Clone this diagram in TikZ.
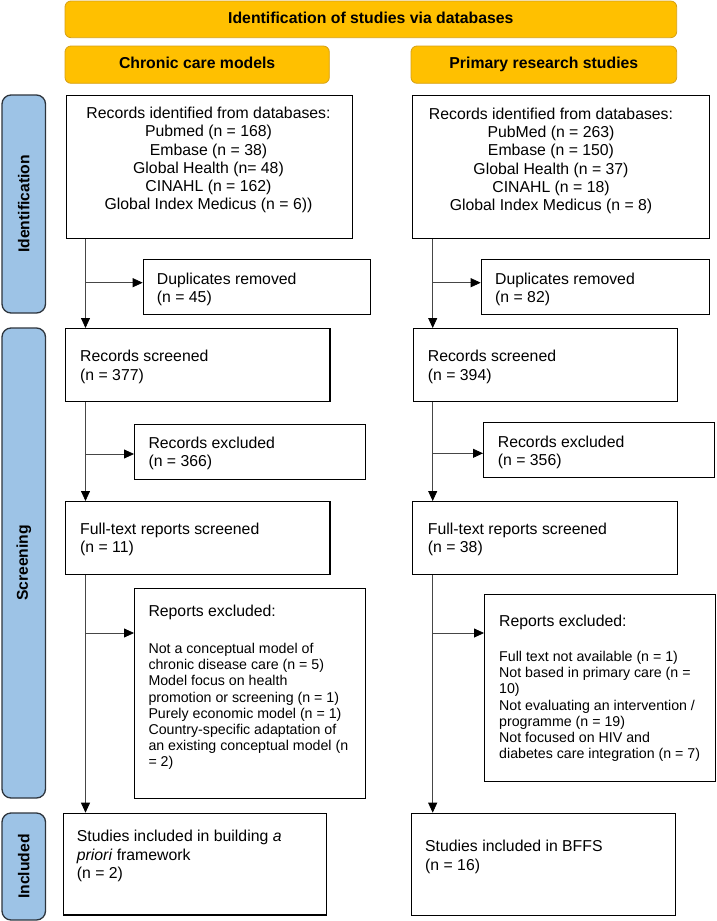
\documentclass[tikz,border=0pt]{standalone}
\usepackage{fontspec}
\setmainfont{Liberation Sans}
\usetikzlibrary{arrows.meta, calc, positioning}

\definecolor{headyellow}{RGB}{255,192,0}
\definecolor{headedge}{RGB}{214,160,20}
\definecolor{phaseblue}{RGB}{157,195,230}
\definecolor{phaseedge}{RGB}{45,52,60}
\definecolor{flowgray}{RGB}{70,70,70}

\begin{document}
\begin{tikzpicture}[x=1pt,y=-1pt,
	head/.style={draw=headedge, fill=headyellow, rounded corners=6pt, line width=0.8pt, inner sep=0pt, text height=11.5pt, text depth=3.3pt, font=\bfseries\fontsize{15.8}{18}\selectfont},
	phase/.style={draw=phaseedge, fill=phaseblue, rounded corners=9pt, line width=1.3pt, inner sep=0pt, rotate=90, font=\bfseries\fontsize{15.7}{18}\selectfont},
	box/.style={draw=black, line width=1.3pt, inner sep=0pt, anchor=north west},
	boxtext/.style={anchor=north west, inner sep=0pt, align=left, font=\fontsize{15.8}{18.3}\selectfont},
	listtext/.style={anchor=north west, inner sep=0pt, align=left, font=\fontsize{14.2}{16.2}\selectfont},
	flow/.style={draw=flowgray, line width=0.8pt, -{Triangle[length=10pt,width=9pt,color=black]}}]
		\useasboundingbox (0,0) rectangle (716,921);

		%Shape: Rounded Rect (headers)
		\node[head, minimum width=611.7, minimum height=36.7] (hd-all) at (370.85,19.35) {Identification of studies via databases};
		\node[head, minimum width=264.3, minimum height=37.3] (hd-ccm) at (197.15,64.65) {Chronic care models};
		\node[head, minimum width=265.7, minimum height=37.3] (hd-prs) at (543.85,64.65) {Primary research studies};

		%Shape: Rounded Rect (phases)
		\node[phase, minimum width=218, minimum height=43.5] (ph-ident) at (23.75,204) {Identification};
		\node[phase, minimum width=470, minimum height=43.5] (ph-screen) at (23.75,563) {Screening};
		\node[phase, minimum width=107, minimum height=43.5] (ph-incl) at (23.75,866.5) {Included};

		%Shape: Rectangle (chronic care models)
		\node[box, minimum width=286.3, minimum height=143] (ccm-ident) at (65.7,95) {};
		\node[box, minimum width=227.3, minimum height=55] (ccm-dup) at (142.7,259) {};
		\node[box, minimum width=264.3, minimum height=73] (ccm-screen) at (65,328) {};
		\node[box, minimum width=231, minimum height=55] (ccm-excl) at (134,424) {};
		\node[box, minimum width=264.3, minimum height=73] (ccm-full) at (65,501) {};
		\node[box, minimum width=231, minimum height=210] (ccm-rep) at (134,588) {};
		\node[box, minimum width=263.3, minimum height=101.5] (ccm-incl) at (62.7,812.7) {};

		%Shape: Rectangle (primary research studies)
		\node[box, minimum width=297.3, minimum height=143] (prs-ident) at (411.7,95) {};
		\node[box, minimum width=228.3, minimum height=55] (prs-dup) at (480.7,259) {};
		\node[box, minimum width=264, minimum height=73] (prs-screen) at (412.7,328) {};
		\node[box, minimum width=231, minimum height=55] (prs-excl) at (483,422) {};
		\node[box, minimum width=264.7, minimum height=73] (prs-full) at (412,501) {};
		\node[box, minimum width=231, minimum height=187] (prs-rep) at (484,594) {};
		\node[box, minimum width=264.3, minimum height=102.3] (prs-incl) at (410.7,812.7) {};

		% Text Node
		\node[boxtext, anchor=north, align=center] (ccm-ident-txt) at (208.5,106.8) {Records identified from databases:\\Pubmed (n = 168)\\Embase (n = 38)\\Global Health (n= 48)\\CINAHL (n = 162)\\Global Index Medicus (n = 6))};
		\node[boxtext] (ccm-dup-txt) at (156.7,272.5) {Duplicates removed\\(n = 45)};
		\node[boxtext] (ccm-screen-txt) at (80,350.2) {Records screened\\(n = 377)};
		\node[boxtext] (ccm-excl-txt) at (148.3,436.8) {Records excluded\\(n = 366)};
		\node[boxtext] (ccm-full-txt) at (80,522.8) {Full-text reports screened\\(n = 11)};
		\node[boxtext] (ccm-rep-txt) at (148.3,605.2) {Reports excluded:};
		\node[listtext] (ccm-rep-list) at (148.3,642.9) {Not a conceptual model of\\chronic disease care (n = 5)\\Model focus on health\\promotion or screening (n = 1)\\Purely economic model (n = 1)\\Country-specific adaptation of\\an existing conceptual model (n\\= 2)};
		\node[boxtext] (ccm-incl-txt) at (76.7,830.2) {Studies included in building \textit{a}\\\textit{priori} framework\\(n = 2)};

		% Text Node
		\node[boxtext, anchor=north, align=center] (prs-ident-txt) at (551,107.5) {Records identified from databases:\\PubMed (n = 263)\\Embase (n = 150)\\Global Health (n = 37)\\CINAHL (n = 18)\\Global Index Medicus (n = 8)};
		\node[boxtext] (prs-dup-txt) at (495,272.5) {Duplicates removed\\(n = 82)};
		\node[boxtext] (prs-screen-txt) at (427.7,350.2) {Records screened\\(n = 394)};
		\node[boxtext] (prs-excl-txt) at (497.7,435.8) {Records excluded\\(n = 356)};
		\node[boxtext] (prs-full-txt) at (427.7,522.5) {Full-text reports screened\\(n = 38)};
		\node[boxtext] (prs-rep-txt) at (499,615.2) {Reports excluded:};
		\node[listtext] (prs-rep-list) at (499,651) {Full text not available (n = 1)\\Not based in primary care (n =\\10)\\Not evaluating an intervention /\\programme (n = 19)\\Not focused on HIV and\\diabetes care integration (n = 7)};
		\node[boxtext] (prs-incl-txt) at (425,840.2) {Studies included in BFFS\\(n = 16)};

		%Straight Lines (trunks)
		\coordinate (ccm-trunk) at (85.5,0);
		\coordinate (prs-trunk) at (432.7,0);
		\draw[flow] (ccm-ident.south -| ccm-trunk) -- (ccm-screen.north -| ccm-trunk);
		\draw[flow] (ccm-screen.south -| ccm-trunk) -- (ccm-full.north -| ccm-trunk);
		\draw[flow] (ccm-full.south -| ccm-trunk) -- (ccm-incl.north -| ccm-trunk);
		\draw[flow] (prs-ident.south -| prs-trunk) -- (prs-screen.north -| prs-trunk);
		\draw[flow] (prs-screen.south -| prs-trunk) -- (prs-full.north -| prs-trunk);
		\draw[flow] (prs-full.south -| prs-trunk) -- (prs-incl.north -| prs-trunk);

		%Straight Lines (branches)
		\coordinate (ccm-dup-in) at ($(ccm-dup.north west)+(0,23.7)$);
		\coordinate (ccm-excl-in) at ($(ccm-excl.north west)+(0,30)$);
		\coordinate (ccm-rep-in) at ($(ccm-rep.north west)+(0,45)$);
		\coordinate (prs-dup-in) at ($(prs-dup.north west)+(0,23.7)$);
		\coordinate (prs-excl-in) at ($(prs-excl.north west)+(0,31.3)$);
		\coordinate (prs-rep-in) at ($(prs-rep.north west)+(0,39)$);
		\draw[flow] (ccm-trunk |- ccm-dup-in) -- (ccm-dup-in);
		\draw[flow] (ccm-trunk |- ccm-excl-in) -- (ccm-excl-in);
		\draw[flow] (ccm-trunk |- ccm-rep-in) -- (ccm-rep-in);
		\draw[flow] (prs-trunk |- prs-dup-in) -- (prs-dup-in);
		\draw[flow] (prs-trunk |- prs-excl-in) -- (prs-excl-in);
		\draw[flow] (prs-trunk |- prs-rep-in) -- (prs-rep-in);

	\end{tikzpicture}
\end{document}
